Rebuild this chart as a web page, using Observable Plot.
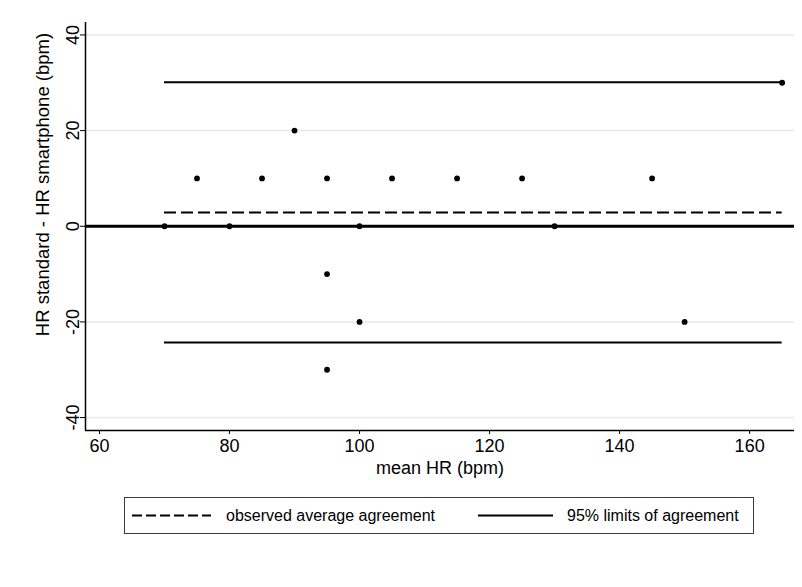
<!DOCTYPE html>
<html><head><meta charset="utf-8">
<script src="https://cdn.jsdelivr.net/npm/d3@7"></script>
<script src="https://cdn.jsdelivr.net/npm/@observablehq/plot@0.6"></script>
<style>
body{margin:0;background:#fff;font-family:"Liberation Sans",Arial,Helvetica,sans-serif;}
#wrap{position:relative;width:802px;height:587px;overflow:hidden;background:#fff;}
#legend{position:absolute;left:124px;top:497px;width:630px;height:37px;box-sizing:border-box;border:1px solid #3a3a3a;}
</style></head>
<body><div id="wrap"><div id="chart"></div><div id="legend"></div></div>
<script>
// data
const meanHR = [70, 75, 80, 85, 90, 95, 95, 95, 100, 100, 105, 115, 125, 130, 145, 150, 165];
const diffHR = [0, 10, 0, 10, 20, 10, -10, -30, 0, -20, 10, 10, 10, 0, 10, -20, 30];
const biasValue = [2.9];
const limitsValue = [30.1, -24.3];
const lineRange = [70, 165];
const xTicks = [60, 80, 100, 120, 140, 160];
const yTicks = [-40, -20, 0, 20, 40];
const xDomain = [57.85, 166.9];
const yDomain = [-42.7, 42.6];
const xTitle = "mean HR (bpm)";
const yTitle = "HR standard - HR smartphone (bpm)";
const legendLabels = ["observed average agreement", "95% limits of agreement"];

const points = meanHR.map((m, i) => ({mean: m, diff: diffHR[i]}));
const font = '"Liberation Sans", Arial, Helvetica, sans-serif';

const chart = Plot.plot({
  width: 802,
  height: 485,
  marginTop: 22,
  marginBottom: 55,
  marginLeft: 85,
  marginRight: 8,
  style: {fontFamily: font, fontSize: "18px", background: "white", color: "black"},
  x: {domain: xDomain},
  y: {domain: yDomain},
  marks: [
    Plot.ruleY(yTicks.filter(d => d !== 0), {stroke: "#e8e8e8", strokeWidth: 1.5}),
    Plot.ruleY([0], {stroke: "black", strokeWidth: 3}),
    Plot.ruleY(limitsValue, {x1: lineRange[0], x2: lineRange[1], stroke: "black", strokeWidth: 2}),
    Plot.ruleY(biasValue, {x1: lineRange[0], x2: lineRange[1], stroke: "black", strokeWidth: 2, strokeDasharray: "12,5"}),
    Plot.dot(points, {x: "mean", y: "diff", r: 2.9, fill: "black", stroke: "none"}),
    Plot.ruleX([xDomain[0]], {stroke: "black", strokeWidth: 1.5}),
    Plot.ruleY([yDomain[0]], {stroke: "black", strokeWidth: 1.5}),
    Plot.axisY({ticks: yTicks, tickSize: 5, tickPadding: 2, tickRotate: -90, fontSize: 18, label: null, tickFormat: d => String(d)}),
    Plot.axisX({ticks: xTicks, tickSize: 4, tickPadding: 5, fontSize: 18, label: null}),
    Plot.text([xTitle], {frameAnchor: "bottom", dy: 43, fontSize: 18, text: d => d}),
    Plot.text([yTitle], {frameAnchor: "left", dx: -42, dy: -42, rotate: -90, textAnchor: "middle", fontSize: 18.5, text: d => d})
  ]
});
document.getElementById("chart").appendChild(chart);

// legend below the chart
const leg = d3.select("#legend").append("svg").attr("width", 628).attr("height", 35)
  .style("font-family", font).style("font-size", "16px");
leg.append("line").attr("x1", 7).attr("x2", 86).attr("y1", 17.5).attr("y2", 17.5)
  .attr("stroke", "black").attr("stroke-width", 2).attr("stroke-dasharray", "10,4");
leg.append("text").attr("x", 101).attr("y", 17.5).attr("dy", "0.35em").text(legendLabels[0]);
leg.append("line").attr("x1", 353).attr("x2", 428).attr("y1", 17.5).attr("y2", 17.5)
  .attr("stroke", "black").attr("stroke-width", 2);
leg.append("text").attr("x", 442).attr("y", 17.5).attr("dy", "0.35em").text(legendLabels[1]);
</script>
</body></html>
